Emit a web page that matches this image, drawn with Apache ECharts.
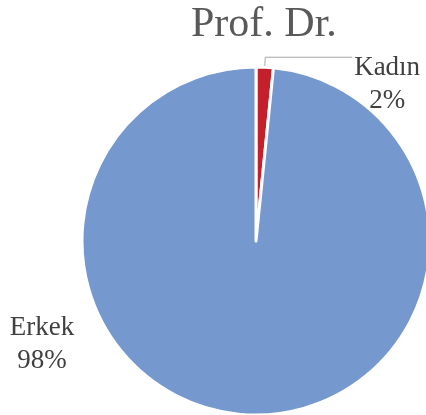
<!DOCTYPE html>
<html>
<head>
<meta charset="utf-8">
<script src="https://cdn.jsdelivr.net/npm/echarts@6/dist/echarts.min.js"></script>
<style>
  html, body { margin: 0; padding: 0; background: #fff; }
  #chart { width: 426px; height: 415px; }
</style>
</head>
<body>
<div id="chart"></div>
<script>
// veriler (yüzde)
const categories = ['Kadın', 'Erkek'];
const values = [1.6, 98.4];
const colors = ['#C3202B', '#7598CF'];

const chart = echarts.init(document.getElementById('chart'));

const labelRich = {
  n: { fontFamily: 'Liberation Serif', fontSize: 27, lineHeight: 33, color: '#404040', align: 'center' },
  p: { fontFamily: 'Liberation Serif', fontSize: 27, lineHeight: 33, color: '#404040', align: 'center' }
};

const seriesData = categories.map((name, i) => ({
  name: name,
  value: values[i],
  itemStyle: { color: colors[i] },
  // Erkek etiketi çizgisiz, pastanın solunda
  label: i === 1 ? { padding: 0 } : { padding: [54, 0, 0, 0] },
  labelLine: { show: i === 0 }
}));

const option = {
  animation: false,
  title: {
    text: 'Prof. Dr.',
    left: 186,
    top: -1,
    textStyle: {
      fontFamily: 'Liberation Serif',
      fontSize: 42,
      fontWeight: 'normal',
      color: '#595959'
    }
  },
  series: [{
    type: 'pie',
    center: [256, 241],
    radius: [0, 174],
    startAngle: 90,
    clockwise: true,
    data: seriesData,
    itemStyle: { borderColor: '#fff', borderWidth: 3 },
    label: {
      show: true,
      position: 'outside',
      overflow: 'none',
      formatter: (p) => '{n|' + p.name + '}\n{p|' + Math.round(p.percent) + '%}',
      rich: labelRich,
      distanceToLabelLine: 6
    },
    labelLine: {
      show: true,
      length: 10,
      length2: 87,
      lineStyle: { color: '#A6A6A6', width: 1 }
    },
    labelLayout: function (params) {
      if (params.dataIndex === 1) {
        return { x: 42, y: 344, align: 'center', verticalAlign: 'middle' };
      }
      return {};
    }
  }]
};

chart.setOption(option);
</script>
</body>
</html>
